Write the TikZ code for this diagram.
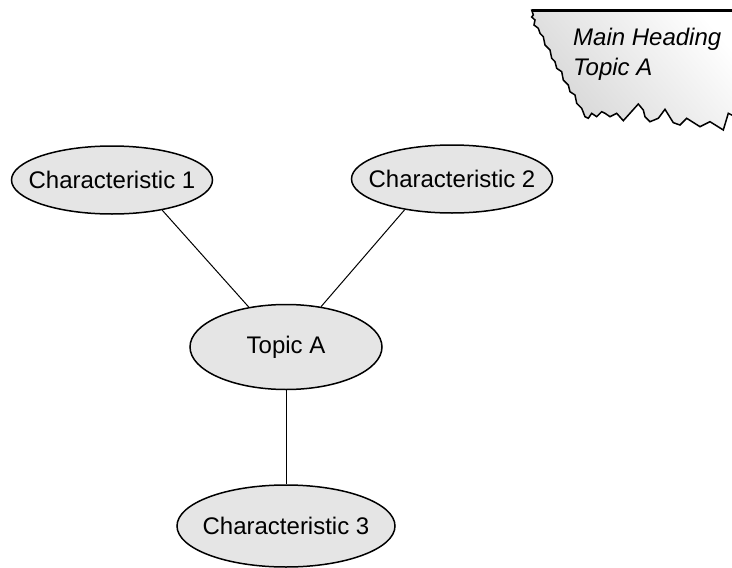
\documentclass[tikz,border=0pt]{standalone}
\usepackage{fontspec}
\setmainfont{Liberation Sans}
\usetikzlibrary{shapes.geometric}
\tikzset{
  bubble/.style={draw=black, line width=1.5pt, fill=black!10, ellipse, inner sep=0pt,
    font=\fontsize{24}{30}\selectfont},
  link/.style={draw=black, line width=1pt},
  headtext/.style={inner sep=0pt, anchor=base west, font=\fontsize{24}{30}\selectfont\itshape},
}
\newcommand{\zw}[1]{\makebox[0pt]{#1}}
\begin{document}
\begin{tikzpicture}[x=1pt,y=-1pt]
\useasboundingbox (0,0) rectangle (732,568);
\begin{scope}
\clip (0,0) rectangle (732,568);
\shade[draw=black, line width=1.5pt, line join=miter, bottom color=black!16, top color=white, shading angle=-50]
  (531.7,10) -- (533.3,15) -- (531.7,17) -- (535,20) -- (534,25) -- (538.3,28.3) -- (540,33.3)
  -- (543.3,36.7) -- (545,45) -- (550,50) -- (551.7,58.3) -- (555,61.7) -- (556.7,68.3)
  -- (561.7,71.7) -- (563.3,80) -- (568.3,85) -- (570,91.7) -- (575,95) -- (576.7,103.3)
  -- (581.7,108.3) -- (585,116.7) -- (588.3,118.3) -- (591.7,113.3) -- (596.7,116.7)
  -- (601.7,111.7) -- (605,113.3) -- (610,116.7) -- (616.7,113.3) -- (623.3,120.7)
  -- (638.3,104) -- (643.3,110) -- (645,116.7) -- (650,121.7) -- (658.3,118.3)
  -- (665,109.3) -- (673.3,122.7) -- (680,125) -- (686.7,118.3) -- (700,126.7)
  -- (710,121.7) -- (723.3,130) -- (728.3,113.3) -- (731.7,115) -- (745,118)
  -- (745,10) -- cycle;
\draw[line width=3pt] (531.7,10) -- (745,10);
\end{scope}
\node[headtext] (h1) at (573,45.5) {Main Heading};
\node[headtext] (h2) at (573,75.5) {Topic A};

\node[bubble, minimum width=201pt, minimum height=68pt] (c1) at (112,180) {\zw{Characteristic 1}};
\node[bubble, minimum width=201pt, minimum height=68pt] (c2) at (452,179) {\zw{Characteristic 2}};
\node[bubble, minimum width=192pt, minimum height=85pt] (topic) at (286,347) {\zw{Topic A}};
\node[bubble, minimum width=218pt, minimum height=82pt] (c3) at (286,526) {\zw{Characteristic 3}};

\draw[link] (c1.-31) -- (topic.133);
\draw[link] (c2.213) -- (topic.49);
\draw[link] (topic.south) -- (c3.north);
\end{tikzpicture}
\end{document}
